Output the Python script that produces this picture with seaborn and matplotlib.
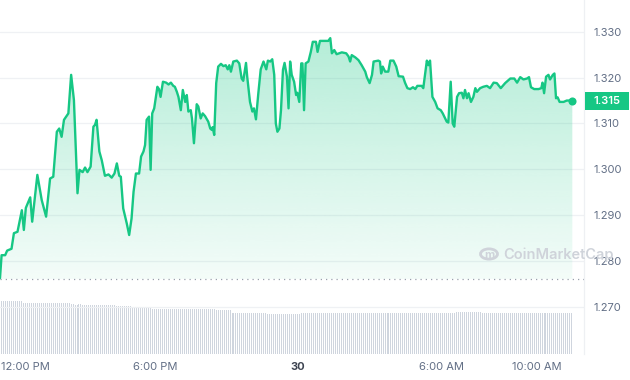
import numpy as np
import pandas as pd
import matplotlib
matplotlib.use("Agg")
import matplotlib.pyplot as plt
import matplotlib.transforms as mtransforms
from matplotlib.patches import Rectangle, Circle
from matplotlib.colors import LinearSegmentedColormap
import seaborn as sns

# ---------------- data (minutes since 11:30 AM, price in USD) ----------------
minutes = [0, 4, 13, 18, 29, 35, 44, 55, 60, 65, 76, 81, 94, 105, 116, 126, 134, 143, 149, 155,
           161, 172, 179, 186, 195, 200, 208, 214, 220, 228, 235, 239, 243, 250, 256, 264, 273, 281, 288, 294,
           300, 304, 310, 319, 325, 331, 336, 342, 350, 355, 361, 365, 369, 375, 379, 383, 388, 396, 400, 404,
           410, 418, 424, 430, 436, 440, 445, 449, 455, 460, 466, 470, 474, 480, 483, 488, 495, 499, 505, 510,
           516, 524, 529, 533, 535, 539, 544, 549, 556, 562, 568, 573, 577, 581, 587, 596, 602, 608, 612, 619,
           622, 629, 635, 639, 644, 650, 656, 663, 670, 674, 680, 685, 690, 694, 698, 703, 707, 712, 716, 722,
           726, 730, 734, 740, 745, 748, 753, 758, 761, 765, 769, 776, 782, 787, 795, 799, 805, 818, 826, 831,
           835, 841, 847, 860, 871, 877, 881, 885, 894, 902, 910, 919, 923, 930, 936, 940, 952, 956, 959, 963,
           969, 977, 982, 990, 997, 1003, 1014, 1019, 1025, 1032, 1039, 1045, 1050, 1061, 1065, 1074, 1078, 1082, 1088, 1095,
           1101, 1109, 1114, 1120, 1124, 1128, 1134, 1139, 1143, 1150, 1155, 1162, 1166, 1170, 1175, 1179, 1185, 1191, 1196, 1200,
           1208, 1216, 1225, 1233, 1242, 1250, 1260, 1271, 1284, 1294, 1301, 1309, 1317, 1326, 1331, 1336, 1344, 1355, 1362, 1365,
           1369, 1374, 1380, 1384, 1391, 1395, 1399, 1403, 1408, 1418, 1426, 1440]
prices = [1.2763, 1.2813, 1.2813, 1.2823, 1.2827, 1.2861, 1.2864, 1.2911, 1.2868, 1.2916, 1.2939, 1.2886, 1.2988, 1.2933, 1.2897, 1.2980, 1.2984, 1.3082, 1.3089, 1.3071,
          1.3108, 1.3122, 1.3206, 1.3151, 1.2948, 1.2999, 1.2994, 1.3004, 1.2994, 1.3006, 1.3093, 1.3097, 1.3108, 1.3039, 1.3020, 1.2986, 1.2989, 1.2982, 1.2991, 1.3013,
          1.2986, 1.2984, 1.2915, 1.2882, 1.2857, 1.2893, 1.2951, 1.2991, 1.2991, 1.3028, 1.3039, 1.3053, 1.3108, 1.3115, 1.2999, 1.3122, 1.3133, 1.3180, 1.3175, 1.3158,
          1.3191, 1.3189, 1.3185, 1.3189, 1.3182, 1.3180, 1.3169, 1.3158, 1.3129, 1.3173, 1.3147, 1.3162, 1.3126, 1.3129, 1.3111, 1.3057, 1.3142, 1.3137, 1.3111, 1.3122,
          1.3116, 1.3104, 1.3089, 1.3086, 1.3092, 1.3075, 1.3188, 1.3224, 1.3230, 1.3225, 1.3227, 1.3218, 1.3227, 1.3213, 1.3235, 1.3237, 1.3231, 1.3198, 1.3193, 1.3232,
          1.3202, 1.3147, 1.3126, 1.3133, 1.3109, 1.3166, 1.3218, 1.3235, 1.3218, 1.3237, 1.3235, 1.3240, 1.3206, 1.3100, 1.3082, 1.3089, 1.3129, 1.3217, 1.3232, 1.3202,
          1.3133, 1.3235, 1.3206, 1.3191, 1.3162, 1.3167, 1.3147, 1.3231, 1.3231, 1.3129, 1.3231, 1.3235, 1.3256, 1.3278, 1.3278, 1.3256, 1.3280, 1.3280, 1.3280, 1.3286,
          1.3253, 1.3260, 1.3251, 1.3255, 1.3253, 1.3246, 1.3235, 1.3249, 1.3244, 1.3238, 1.3227, 1.3213, 1.3201, 1.3188, 1.3206, 1.3235, 1.3237, 1.3235, 1.3209, 1.3224,
          1.3213, 1.3213, 1.3237, 1.3237, 1.3224, 1.3203, 1.3202, 1.3189, 1.3177, 1.3175, 1.3179, 1.3175, 1.3182, 1.3182, 1.3177, 1.3237, 1.3227, 1.3237, 1.3158, 1.3147,
          1.3133, 1.3129, 1.3122, 1.3111, 1.3104, 1.3102, 1.3191, 1.3100, 1.3093, 1.3158, 1.3166, 1.3167, 1.3155, 1.3173, 1.3155, 1.3166, 1.3147, 1.3158, 1.3177, 1.3169,
          1.3177, 1.3180, 1.3182, 1.3177, 1.3189, 1.3188, 1.3177, 1.3188, 1.3198, 1.3198, 1.3189, 1.3201, 1.3196, 1.3198, 1.3201, 1.3179, 1.3175, 1.3175, 1.3177, 1.3189,
          1.3166, 1.3202, 1.3206, 1.3196, 1.3206, 1.3209, 1.3155, 1.3157, 1.3147, 1.3147, 1.3150, 1.3150]

# 5-minute volume bars (relative units), one row per hour
volume = [
    53, 53, 53, 53, 53, 53, 53, 53, 53, 53, 53, 50.7,
    50.7, 50.7, 50.7, 50.7, 50.7, 50.7, 50.7, 50.7, 50.7, 50.7, 50.7, 50.7,
    50.7, 50.7, 50.7, 50.7, 50.7, 50.7, 50.7, 50.7, 50.7, 50.7, 50.7, 50,
    50, 49.5, 49.5, 50, 50, 49.5, 49.5, 49, 49, 49, 49, 49,
    49, 49, 49, 49, 49, 49, 49, 49, 49, 49, 48, 48,
    48, 48, 48, 48, 48, 48, 46, 46, 46, 46, 46, 46,
    46, 46, 46, 46, 45, 45, 45, 45, 45, 45, 45, 45,
    45, 45, 45, 45, 45, 45, 45, 45, 45, 45, 45, 45,
    45, 45, 45, 45, 45, 45, 45, 45, 45, 45, 45, 45,
    44, 44, 44, 44, 44, 44, 44, 44, 41.5, 41.5, 41.5, 41.5,
    41.5, 41.5, 41.5, 41.5, 41.5, 41.5, 41.5, 41.5, 41.5, 41.5, 41.5, 41.5,
    41.5, 41.5, 40, 40, 40, 40, 40, 40, 40, 40, 40, 40,
    40, 40, 40, 40, 40, 40, 40, 40.7, 40.7, 40.7, 40.7, 40.7,
    40.7, 40.7, 40.7, 40.7, 40.7, 40.7, 40.7, 40.7, 40.7, 40.7, 40.7, 40.7,
    40.7, 40.7, 40.7, 40.7, 40.7, 40.7, 40.7, 40.7, 40.7, 40.7, 40.7, 40.7,
    40.7, 41.3, 41.3, 41.3, 41.3, 41.3, 41.3, 41.3, 41.3, 41.3, 41.3, 41.3,
    41.3, 41.3, 41.3, 41.3, 41.3, 41.3, 41.3, 41.3, 41.3, 41.3, 41.3, 41.3,
    41.3, 41.3, 41.3, 41.3, 41.3, 41.3, 41.3, 41.3, 41.3, 41.3, 41.3, 41.3,
    41.3, 41.3, 41.3, 41.3, 41.3, 41.3, 41.3, 41.3, 41.3, 41.3, 41.3, 41.3,
    41.3, 42.3, 42.3, 42.3, 42.3, 42.3, 42.3, 42.3, 42.3, 42.3, 42.3, 42.3,
    42.3, 42.3, 40.7, 40.7, 40.7, 40.7, 40.7, 40.7, 40.7, 40.7, 40.7, 40.7,
    40.7, 40.7, 40.7, 40.7, 40.7, 40.7, 40.7, 40.7, 40.7, 40.7, 40.7, 40.7,
    40.7, 40.7, 40.7, 40.7, 40.7, 40.7, 40.7, 40.7, 40.7, 40.7, 40.7, 40.7,
    40.7, 40.7, 40.7, 40.7, 40.7, 40.7, 40.7, 40.7, 40.7, 40.7, 40.7, 40.7,
]
bar_minutes = [2.5 + 5 * i for i in range(len(volume))]

open_price = 1.2761
last_price = 1.315
price_ticks = [1.270, 1.280, 1.290, 1.300, 1.310, 1.320, 1.330]
x_tick_minutes = [30, 390, 750, 1110, 1350]
x_tick_labels = ["12:00 PM", "6:00 PM", "30", "6:00 AM", "10:00 AM"]

GREEN = "#16c784"
TEXT = "#616e85"

# ---------------- figure ----------------
sns.set_theme(style="white")
plt.rcParams["font.family"] = ["Inter", "DejaVu Sans"]

W, H = 630, 380
fig = plt.figure(figsize=(W / 100, H / 100), dpi=100)
rect = [0, 26 / H, 584 / W, 354 / H]
ax_v = fig.add_axes(rect)
ax = fig.add_axes(rect, sharex=ax_v)
ax.patch.set_alpha(0)

# volume bars (thin 1px lines)
ax_v.vlines(bar_minutes, 0, volume, colors="#cfd5de", linewidth=0.72, antialiased=False)
ax_v.set_ylim(0, 354)
ax_v.axis("off")

# price line
df = pd.DataFrame({"minute": minutes, "price": prices})
sns.lineplot(data=df, x="minute", y="price", ax=ax, color=GREEN, linewidth=1.7, zorder=5)

# gradient fill under the line (alpha ramps from bottom to top)
ymin, ymax = 1.25977, 1.33691
poly = ax.fill_between(minutes, prices, open_price, color="none", linewidth=0)
g = (22 / 255, 199 / 255, 132 / 255)
cmap = LinearSegmentedColormap.from_list("g", [(*g, 0.0), (*g, 1.0)])
grad = np.linspace(0.05, 0.32, 256).reshape(-1, 1)
img = ax.imshow(grad, extent=[0, 1440, open_price, 1.329], origin="lower", aspect="auto",
                cmap=cmap, vmin=0, vmax=1, zorder=2)
img.set_clip_path(poly.get_paths()[0], transform=ax.transData)

# open-price dotted line
ax.axhline(open_price, color="#9aa1ad", linewidth=0.9, linestyle=(0, (1, 3.2)), zorder=3)

# end marker
ax.scatter([minutes[-1]], [prices[-1]], s=34, color=GREEN, zorder=6, linewidths=0)

ax.set_xlim(0, 1469.4)
ax.set_ylim(ymin, ymax)

# grid and axes styling
ax.set_yticks(price_ticks)
ax.set_yticklabels([f"{p:.3f}" for p in price_ticks])
ax.yaxis.tick_right()
ax.grid(axis="y", color="#eff1f4", linewidth=0.9)
ax.grid(axis="x", visible=False)
for s in ["top", "left", "bottom"]:
    ax.spines[s].set_visible(False)
ax.spines["right"].set_color("#eef0f3")
ax.spines["right"].set_linewidth(0.9)
ax.tick_params(axis="y", length=0, pad=6.5, labelsize=8, labelcolor=TEXT)
ax.tick_params(axis="x", length=0, pad=6, labelsize=8, labelcolor=TEXT)
ax.set_xticks(x_tick_minutes)
ax.set_xticklabels(x_tick_labels)
ax.set_xlabel("")
ax.set_ylabel("")
xl = ax.get_xticklabels()
xl[0].set_ha("left")
xl[0].set_transform(xl[0].get_transform() + mtransforms.ScaledTranslation(-11 / 100, 0, fig.dpi_scale_trans))
xl[2].set_fontweight("bold")
xl[2].set_color("#3d4451")

# current price label box
blend = mtransforms.blended_transform_factory(ax.transAxes, ax.transData)
half_h = 9 * (ymax - ymin) / 354
box_w = 44 / 584
ax.add_patch(Rectangle((1.0015, last_price - half_h), box_w, 2 * half_h, transform=blend,
                       facecolor=GREEN, edgecolor="none", clip_on=False, zorder=7))
ax.text(1.0015 + box_w / 2, last_price, f"{last_price:.3f}", transform=blend, ha="center", va="center",
        color="white", fontsize=8, fontweight="semibold", zorder=8, clip_on=False)

# watermark
wm = "#cfd3da"
fig.patches.append(Circle((489 / W, 1 - 254 / H), 8.5 / W, transform=fig.transFigure, fill=False,
                          edgecolor=wm, linewidth=2.0, zorder=1))
fig.text(489 / W, 1 - 255 / H, "m", ha="center", va="center", fontsize=8, fontweight="bold", color=wm)
fig.text(503 / W, 1 - 255 / H, "CoinMarketCap", ha="left", va="center", fontsize=10.5,
         fontweight="semibold", color=wm, zorder=1)

fig.savefig("out.png", dpi=100)
